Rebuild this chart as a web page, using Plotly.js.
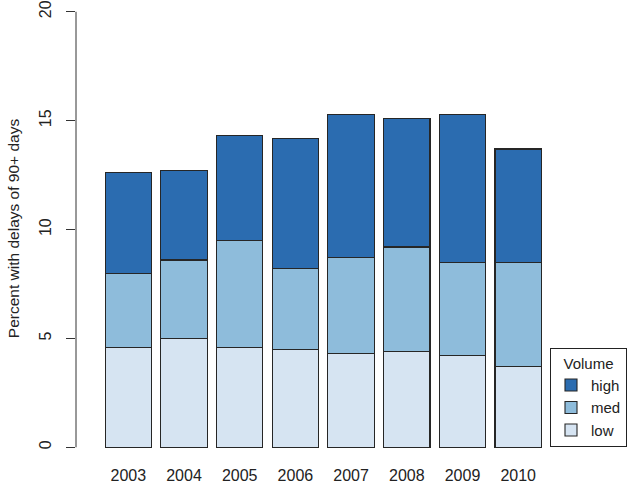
<!DOCTYPE html>
<html>
<head>
<meta charset="utf-8">
<script src="https://cdn.plot.ly/plotly-3.0.1.min.js"></script>
<style>html,body{margin:0;padding:0;background:#fff;}#chart{width:629px;height:485px;}</style>
</head>
<body>
<div id="chart"></div>
<script>
const years = ['2003','2004','2005','2006','2007','2008','2009','2010'];
const low  = [4.6, 5.0, 4.6, 4.5, 4.3, 4.4, 4.2, 3.7];
const med  = [3.4, 3.6, 4.9, 3.7, 4.4, 4.8, 4.3, 4.8];
const high = [4.6, 4.1, 4.8, 6.0, 6.6, 5.9, 6.8, 5.2];
const seriesNames = ['low', 'med', 'high'];
const seriesColors = ['#D6E4F2', '#8EBCDB', '#2B6CB0'];
const yTicks = [0, 5, 10, 15, 20];

const FONT = 'Liberation Sans, Arial, sans-serif';
const series = [low, med, high];
const traces = series.map((vals, i) => ({
  type: 'bar',
  x: years,
  y: vals,
  name: seriesNames[i],
  width: 0.833,
  marker: {color: seriesColors[i], line: {color: '#262626', width: 1.1}},
  hoverinfo: 'skip'
}));

const layout = {
  width: 629, height: 485,
  margin: {l: 76, r: 2, t: 5, b: 33},
  paper_bgcolor: '#ffffff', plot_bgcolor: '#ffffff',
  barmode: 'stack',
  font: {family: FONT, size: 15, color: '#222222'},
  xaxis: {
    type: 'category', range: [-0.939, 8.953],
    showline: false, showgrid: false, zeroline: false,
    ticks: 'outside', ticklen: 9, tickcolor: 'rgba(0,0,0,0)',
    tickfont: {size: 16, color: '#222222'}
  },
  yaxis: {
    range: [-0.216, 20.31],
    showline: false, showgrid: false, zeroline: false,
    tickvals: yTicks, ticktext: yTicks.map(String),
    ticks: 'outside', ticklen: 9, tickcolor: '#333333', tickwidth: 1,
    tickangle: -90, ticklabelstandoff: 9,
    tickfont: {size: 16, color: '#222222'},
    title: {text: 'Percent with delays of 90+ days', font: {size: 15.5, color: '#222222'}, standoff: 13}
  },
  shapes: [{
    type: 'line', xref: 'paper', yref: 'y', x0: 0, x1: 0, y0: 0, y1: 20,
    line: {color: '#333333', width: 1}
  }],
  legend: {
    x: 1, xanchor: 'right', y: 0.0105, yanchor: 'bottom',
    xref: 'paper', yref: 'paper',
    traceorder: 'reversed',
    bordercolor: '#222222', borderwidth: 1, bgcolor: '#ffffff',
    font: {size: 15, color: '#222222'},
    title: {text: 'Volume', side: 'top center', font: {size: 15, color: '#222222'}},
    tracegroupgap: 0
  },
  showlegend: true
};

Plotly.newPlot('chart', traces, layout, {displayModeBar: false, staticPlot: true});
</script>
</body>
</html>
